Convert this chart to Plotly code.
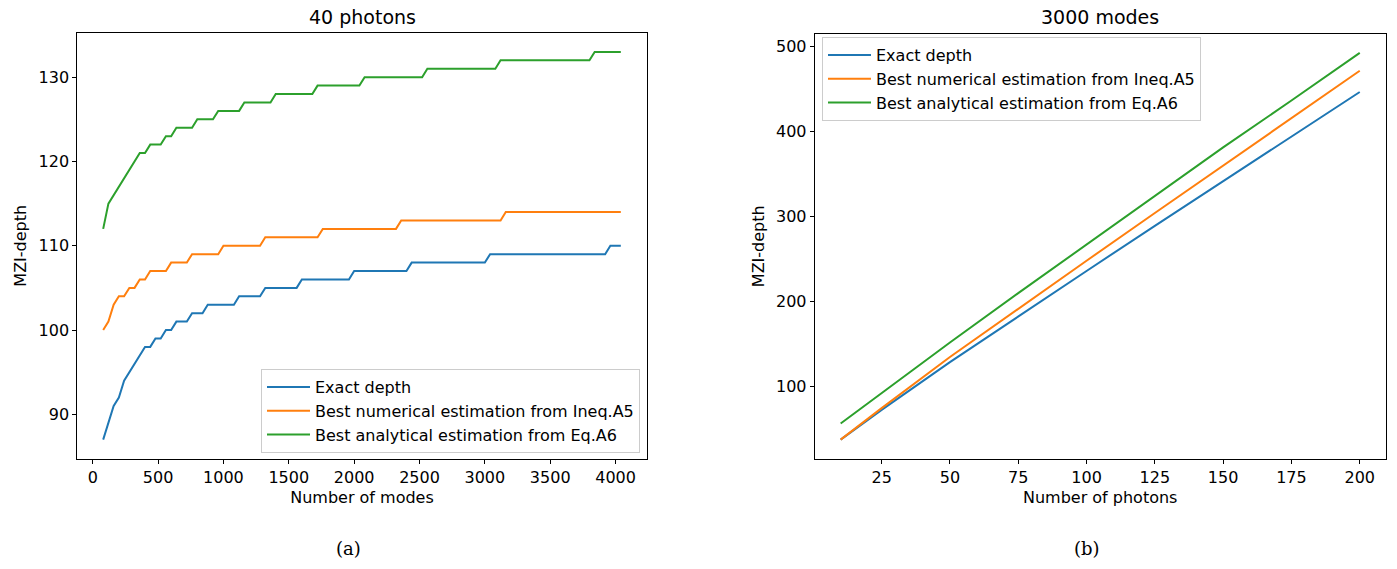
import plotly.graph_objects as go

# ---------------- Panel (a): 40 photons, depth vs number of modes ----------------
modes_exact = [80, 160, 200, 240, 400, 440, 480, 520, 560, 600, 640, 720, 760, 840, 880, 1080,
               1120, 1280, 1320, 1560, 1600, 1960, 2000, 2400, 2440, 3000, 3040, 3920, 3960, 4040]
depth_exact = [87, 91, 92, 94, 98, 98, 99, 99, 100, 100, 101, 101, 102, 102, 103, 103,
               104, 104, 105, 105, 106, 106, 107, 107, 108, 108, 109, 109, 110, 110]

modes_num = [80, 120, 160, 200, 240, 280, 320, 360, 400, 440, 560, 600, 720, 760, 960, 1000,
             1280, 1320, 1720, 1760, 2320, 2360, 3120, 3160, 4040]
depth_num = [100, 101, 103, 104, 104, 105, 105, 106, 106, 107, 107, 108, 108, 109, 109, 110,
             110, 111, 111, 112, 112, 113, 113, 114, 114]

modes_ana = [80, 120, 360, 400, 440, 520, 560, 600, 640, 760, 800, 920, 960, 1120, 1160, 1360,
             1400, 1680, 1720, 2040, 2080, 2520, 2560, 3080, 3120, 3800, 3840, 4040]
depth_ana = [112, 115, 121, 121, 122, 122, 123, 123, 124, 124, 125, 125, 126, 126, 127, 127,
             128, 128, 129, 129, 130, 130, 131, 131, 132, 132, 133, 133]

# ---------------- Panel (b): 3000 modes, depth vs number of photons ----------------
photons = [10, 25, 50, 75, 100, 125, 150, 175, 200]
b_exact = [38, 73, 129, 183, 236, 289, 341, 394, 446]
b_num = [38, 75, 135, 192, 248, 304, 360, 415, 471]
b_ana = [57, 93, 152, 210, 267, 324, 381, 436, 492]

names = ["Exact depth", "Best numerical estimation from Ineq.A5", "Best analytical estimation from Eq.A6"]
colors = ["#1f77b4", "#ff7f0e", "#2ca02c"]

W, H = 1397, 569
FONT = "DejaVu Sans"

fig = go.Figure()

left = [(modes_exact, depth_exact), (modes_num, depth_num), (modes_ana, depth_ana)]
right = [(photons, b_exact), (photons, b_num), (photons, b_ana)]

for (x, y), n, c in zip(left, names, colors):
    fig.add_trace(go.Scatter(x=x, y=y, mode="lines", name=n, line=dict(color=c, width=2),
                             xaxis="x", yaxis="y", legend="legend"))
for (x, y), n, c in zip(right, names, colors):
    fig.add_trace(go.Scatter(x=x, y=y, mode="lines", name=n, line=dict(color=c, width=2),
                             xaxis="x2", yaxis="y2", legend="legend2"))

def px_x(p):
    return p / W

def px_y(p):
    return 1 - p / H

axis_common = dict(showgrid=False, zeroline=False, showline=True, linecolor="black", linewidth=1,
                   mirror=True, ticks="outside", ticklen=4, tickwidth=1, tickcolor="black",
                   tickfont=dict(family=FONT, size=16, color="black"))

legend_common = dict(bgcolor="rgba(255,255,255,0.8)", bordercolor="#cccccc", borderwidth=1,
                     font=dict(family=FONT, size=16, color="black"), tracegroupgap=0,
                     itemwidth=43)

fig.update_layout(
    width=W, height=H,
    margin=dict(l=0, r=0, t=0, b=0),
    paper_bgcolor="white", plot_bgcolor="white",
    font=dict(family=FONT, color="black"),
    xaxis=dict(domain=[px_x(77.3), px_x(646.7)], range=[-118, 4238], tickvals=list(range(0, 4001, 500)),
               title=dict(text="Number of modes", font=dict(size=16), standoff=5), anchor="y", **axis_common),
    yaxis=dict(domain=[px_y(459), px_y(32.5)], range=[84.7, 135.3], tickvals=[90, 100, 110, 120, 130],
               title=dict(text="MZI-depth", font=dict(size=16), standoff=7), anchor="x", **axis_common),
    xaxis2=dict(domain=[px_x(814.7), px_x(1385.7)], range=[0.5, 209.5], tickvals=list(range(25, 201, 25)),
                title=dict(text="Number of photons", font=dict(size=16), standoff=5), anchor="y2", **axis_common),
    yaxis2=dict(domain=[px_y(459), px_y(33.5)], range=[15.3, 514.7], tickvals=[100, 200, 300, 400, 500],
                title=dict(text="MZI-depth", font=dict(size=16), standoff=7), anchor="x2", **axis_common),
    legend=dict(x=px_x(640), y=px_y(453), xanchor="right", yanchor="bottom", **legend_common),
    legend2=dict(x=px_x(822), y=px_y(37), xanchor="left", yanchor="top", **legend_common),
    annotations=[
        dict(text="40 photons", x=px_x(362), y=px_y(17), xref="paper", yref="paper", showarrow=False,
             font=dict(family=FONT, size=19, color="black"), xanchor="center", yanchor="middle"),
        dict(text="3000 modes", x=px_x(1100), y=px_y(17), xref="paper", yref="paper", showarrow=False,
             font=dict(family=FONT, size=19, color="black"), xanchor="center", yanchor="middle"),
        dict(text="(a)", x=px_x(348), y=px_y(548), xref="paper", yref="paper", showarrow=False,
             font=dict(family="DejaVu Serif", size=18, color="black"), xanchor="center", yanchor="middle"),
        dict(text="(b)", x=px_x(1087), y=px_y(548), xref="paper", yref="paper", showarrow=False,
             font=dict(family="DejaVu Serif", size=18, color="black"), xanchor="center", yanchor="middle"),
    ],
)

fig.write_html("out.html")
